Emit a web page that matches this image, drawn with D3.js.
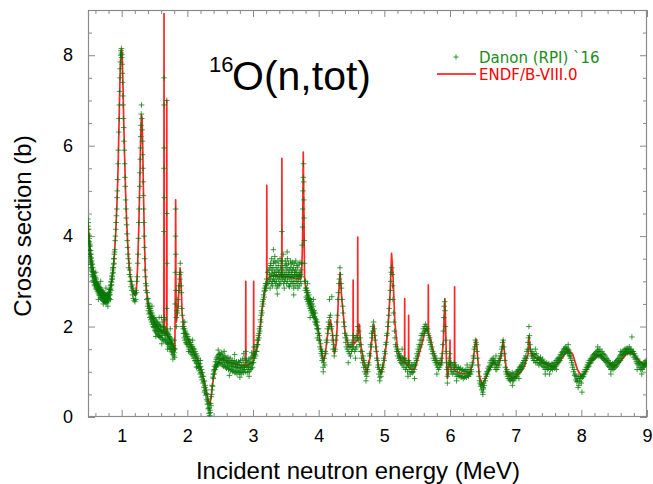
<!DOCTYPE html>
<html><head><meta charset="utf-8">
<script src="https://cdn.jsdelivr.net/npm/d3@7"></script>
<style>body{margin:0;background:#fff}svg{display:block}</style>
</head><body><svg id="c" width="653" height="484"></svg>
<script>
const xMajorTicks = [1,2,3,4,5,6,7,8,9];
const yMajorTicks = [0,2,4,6,8];
const xDomain = [0.487, 9];
const yDomain = [0, 9];
const seriesNames = ["Danon (RPI) `16", "ENDF/B-VIII.0"];
const titleSup = "16", titleMain = "O(n,tot)";
const xTitle = "Incident neutron energy (MeV)", yTitle = "Cross section (b)";

// ENDF/B-VIII.0 evaluated curve [E (MeV), sigma (b)]
const endf = [[0.48,4.3],[0.49,4.2],[0.50,4.02],[0.52,3.72],[0.54,3.48],[0.57,3.22],[0.60,3.06],[0.63,2.96],[0.67,2.86],[0.71,2.77],[0.75,2.7],[0.78,2.67],[0.81,2.72],[0.84,2.92],[0.87,3.25],[0.89,3.6],[0.91,4.1],[0.93,4.8],[0.945,5.5],[0.96,6.5],[0.97,7.25],[0.98,7.8],[0.99,8.1],[1.0,8.13],[1.01,7.9],[1.02,7.3],[1.03,6.6],[1.045,5.75],[1.06,4.95],[1.075,4.35],[1.09,3.9],[1.11,3.42],[1.13,3.12],[1.16,2.85],[1.19,2.7],[1.21,2.68],[1.225,2.85],[1.24,3.25],[1.255,3.9],[1.27,4.8],[1.28,5.5],[1.29,6.2],[1.30,6.68],[1.31,6.6],[1.32,6.0],[1.33,5.1],[1.345,4.0],[1.36,3.2],[1.38,2.75],[1.41,2.45],[1.45,2.25],[1.5,2.08],[1.55,1.97],[1.6,1.92],[1.642,1.88],[1.645,8.92],[1.648,1.9],[1.684,1.82],[1.687,7.0],[1.69,1.82],[1.72,1.75],[1.76,1.65],[1.79,1.55],[1.81,1.45],[1.818,3.0],[1.822,4.8],[1.826,3.0],[1.832,2.1],[1.85,2.3],[1.87,2.75],[1.89,3.3],[1.905,2.95],[1.92,2.3],[1.95,1.92],[2.0,1.75],[2.05,1.58],[2.1,1.42],[2.15,1.28],[2.2,1.08],[2.25,0.83],[2.29,0.55],[2.32,0.35],[2.345,0.28],[2.37,0.55],[2.40,0.88],[2.44,1.12],[2.48,1.24],[2.53,1.28],[2.6,1.24],[2.7,1.18],[2.8,1.15],[2.888,1.14],[2.89,3.0],[2.892,1.14],[3.0,1.2],[3.008,1.25],[3.01,3.0],[3.012,1.3],[3.06,1.5],[3.1,1.85],[3.14,2.38],[3.18,2.78],[3.208,2.95],[3.21,5.12],[3.212,3.0],[3.25,3.1],[3.3,3.12],[3.35,3.13],[3.438,3.1],[3.44,5.72],[3.442,3.1],[3.55,3.1],[3.65,3.06],[3.72,3.05],[3.74,3.15],[3.755,3.9],[3.765,5.86],[3.775,4.6],[3.785,3.1],[3.8,2.88],[3.85,2.6],[3.9,2.4],[3.95,2.18],[4.0,1.88],[4.04,1.48],[4.07,1.22],[4.1,1.38],[4.14,1.88],[4.18,2.15],[4.21,1.85],[4.24,1.4],[4.27,1.65],[4.3,2.6],[4.325,3.2],[4.35,2.65],[4.4,1.9],[4.45,1.55],[4.5,1.55],[4.523,1.6],[4.525,3.03],[4.527,1.6],[4.593,1.7],[4.595,3.98],[4.597,1.8],[4.62,2.05],[4.64,1.6],[4.68,1.25],[4.73,0.98],[4.78,1.3],[4.82,1.85],[4.84,2.05],[4.87,1.6],[4.91,1.1],[4.95,0.95],[5.0,1.25],[5.05,1.85],[5.09,2.8],[5.11,3.62],[5.13,3.2],[5.16,2.1],[5.2,1.5],[5.25,1.25],[5.308,1.2],[5.31,2.62],[5.312,1.2],[5.368,1.12],[5.37,2.25],[5.372,1.1],[5.42,1.05],[5.47,1.08],[5.52,1.35],[5.58,1.65],[5.63,1.95],[5.668,1.88],[5.67,2.92],[5.672,1.85],[5.7,1.75],[5.75,1.42],[5.8,1.2],[5.87,1.15],[5.9,1.7],[5.915,2.4],[5.922,2.62],[5.93,2.2],[5.945,1.3],[5.96,0.85],[5.98,1.1],[5.998,1.2],[6.0,1.7],[6.002,1.15],[6.03,1.05],[6.068,1.05],[6.07,2.88],[6.072,1.05],[6.1,1.0],[6.2,0.95],[6.3,0.98],[6.35,1.2],[6.385,1.65],[6.40,1.72],[6.42,1.35],[6.45,0.9],[6.49,0.72],[6.53,0.82],[6.6,1.05],[6.66,1.22],[6.7,1.15],[6.74,1.15],[6.78,1.35],[6.81,1.7],[6.83,1.45],[6.86,1.0],[6.92,0.88],[7.0,0.88],[7.08,1.0],[7.14,1.15],[7.19,1.4],[7.205,1.77],[7.22,1.5],[7.26,1.35],[7.33,1.28],[7.4,1.22],[7.5,1.14],[7.58,1.11],[7.66,1.2],[7.74,1.38],[7.81,1.48],[7.87,1.38],[7.94,1.05],[8.0,0.9],[8.06,0.98],[8.14,1.2],[8.22,1.33],[8.29,1.37],[8.38,1.25],[8.49,1.11],[8.58,1.2],[8.68,1.38],[8.77,1.44],[8.84,1.3],[8.95,1.15],[9.0,1.2]];

// Danon (RPI) 2016 measurement [E (MeV), sigma (b)] - main sweep
const danonMain = [[0.483,4.38],[0.486,4.05],[0.489,4.22],[0.492,3.9],[0.495,4.15],[0.498,3.85],[0.501,4.02],[0.504,3.7],[0.507,3.95],[0.51,3.6],[0.513,3.82],[0.516,3.55],[0.519,3.78],[0.522,3.45],[0.525,3.68],[0.528,3.38],[0.531,3.6],[0.534,3.3],[0.537,3.52],[0.54,3.25],[0.544,3.45],[0.548,3.15],[0.552,3.38],[0.556,3.1],[0.56,3.3],[0.565,3.02],[0.57,3.22],[0.575,2.98],[0.58,3.18],[0.585,2.92],[0.59,3.12],[0.595,2.9],[0.60,3.08],[0.606,2.85],[0.612,3.05],[0.618,2.82],[0.624,2.98],[0.63,2.78],[0.636,2.95],[0.642,2.74],[0.648,2.92],[0.654,2.7],[0.66,2.88],[0.666,2.68],[0.672,2.86],[0.678,2.64],[0.684,2.82],[0.69,2.62],[0.696,2.8],[0.702,2.6],[0.708,2.78],[0.714,2.58],[0.72,2.75],[0.726,2.56],[0.732,2.74],[0.738,2.55],[0.744,2.72],[0.75,2.54],[0.756,2.7],[0.762,2.53],[0.768,2.68],[0.774,2.52],[0.78,2.7],[0.786,2.55],[0.792,2.72],[0.798,2.58],[0.804,2.76],[0.81,2.62],[0.816,2.82],[0.822,2.7],[0.828,2.9],[0.834,2.8],[0.84,3.0],[0.846,2.92],[0.852,3.12],[0.858,3.05],[0.864,3.25],[0.87,3.2],[0.876,3.38],[0.882,3.4],[0.888,3.6],[0.894,3.7],[0.90,3.9],[0.905,4.0],[0.91,4.15],[0.915,4.3],[0.92,4.45],[0.925,4.6],[0.93,4.85],[0.935,5.0],[0.94,5.25],[0.945,5.6],[0.95,5.9],[0.955,6.3],[0.96,6.6],[0.965,6.9],[0.97,7.2],[0.975,7.5],[0.978,7.7],[0.982,7.85],[0.986,8.0],[0.99,8.1],[0.993,8.05],[0.996,8.15],[1.0,7.95],[1.003,8.02],[1.006,7.8],[1.01,7.6],[1.014,7.4],[1.018,7.1],[1.022,6.9],[1.026,6.6],[1.03,6.4],[1.035,6.1],[1.04,5.9],[1.045,5.6],[1.05,5.3],[1.055,5.1],[1.06,4.8],[1.065,4.6],[1.07,4.4],[1.075,4.25],[1.08,4.05],[1.085,3.9],[1.09,3.75],[1.095,3.6],[1.10,3.5],[1.106,3.3],[1.112,3.4],[1.118,3.15],[1.124,3.25],[1.13,3.0],[1.136,3.1],[1.142,2.88],[1.148,3.0],[1.154,2.8],[1.16,2.92],[1.166,2.7],[1.172,2.85],[1.178,2.62],[1.184,2.78],[1.19,2.58],[1.196,2.74],[1.202,2.55],[1.208,2.72],[1.214,2.6],[1.22,2.8],[1.226,2.75],[1.232,3.0],[1.238,3.1],[1.244,3.4],[1.25,3.6],[1.256,3.95],[1.262,4.3],[1.266,4.6],[1.27,4.85],[1.274,5.1],[1.278,5.4],[1.282,5.7],[1.286,5.95],[1.29,6.2],[1.294,6.45],[1.298,6.7],[1.302,6.9],[1.306,6.6],[1.31,6.35],[1.314,6.1],[1.318,5.8],[1.322,5.5],[1.326,5.2],[1.33,4.9],[1.334,4.6],[1.338,4.3],[1.342,4.0],[1.346,3.75],[1.35,3.5],[1.355,3.25],[1.36,3.1],[1.365,2.95],[1.37,2.8],[1.376,2.9],[1.382,2.6],[1.388,2.75],[1.394,2.45],[1.40,2.62],[1.406,2.35],[1.412,2.52],[1.418,2.28],[1.424,2.45],[1.43,2.2],[1.436,2.4],[1.442,2.15],[1.448,2.35],[1.454,2.1],[1.46,2.3],[1.466,2.05],[1.472,2.25],[1.478,2.0],[1.484,2.2],[1.49,1.98],[1.496,2.18],[1.502,1.92],[1.508,2.15],[1.514,1.9],[1.52,2.12],[1.526,1.88],[1.532,2.1],[1.538,1.85],[1.544,2.08],[1.55,1.82],[1.556,2.05],[1.562,1.8],[1.568,2.04],[1.574,1.78],[1.58,2.02],[1.586,1.76],[1.592,2.0],[1.598,1.75],[1.604,2.2],[1.61,1.8],[1.616,2.1],[1.622,1.72],[1.628,1.98],[1.634,1.7],[1.64,2.0],[1.643,4.1],[1.644,5.5],[1.645,7.5],[1.646,6.9],[1.647,5.95],[1.648,4.85],[1.65,2.2],[1.656,1.72],[1.662,1.95],[1.668,1.68],[1.674,1.92],[1.68,1.65],[1.684,2.4],[1.686,4.5],[1.687,7.0],[1.688,3.4],[1.692,1.88],[1.698,1.62],[1.704,1.85],[1.71,1.6],[1.716,1.82],[1.722,1.55],[1.728,1.78],[1.734,1.52],[1.74,1.75],[1.746,1.5],[1.752,1.72],[1.758,1.45],[1.764,1.68],[1.77,1.42],[1.776,1.62],[1.782,1.38],[1.788,1.58],[1.794,1.35],[1.80,1.52],[1.806,1.32],[1.812,1.5],[1.816,2.5],[1.818,3.2],[1.82,4.0],[1.822,4.6],[1.824,3.6],[1.826,2.8],[1.83,2.2],[1.836,2.0],[1.842,2.35],[1.85,2.3],[1.856,2.6],[1.862,2.45],[1.868,2.9],[1.874,2.8],[1.88,3.15],[1.886,3.05],[1.892,3.4],[1.898,3.2],[1.904,2.9],[1.91,2.75],[1.916,2.4],[1.922,2.25],[1.928,2.0],[1.934,2.1],[1.94,1.85],[1.946,2.0],[1.952,1.75],[1.958,1.95],[1.964,1.7],[1.97,1.9],[1.976,1.65],[1.982,1.85],[1.988,1.62],[1.994,1.82],[2.0,1.6],[2.007,1.78],[2.014,1.55],[2.021,1.72],[2.028,1.5],[2.035,1.7],[2.042,1.45],[2.049,1.65],[2.056,1.42],[2.063,1.6],[2.07,1.38],[2.077,1.56],[2.084,1.35],[2.091,1.52],[2.098,1.3],[2.105,1.5],[2.112,1.25],[2.119,1.45],[2.126,1.22],[2.133,1.4],[2.14,1.18],[2.147,1.35],[2.154,1.12],[2.161,1.3],[2.168,1.08],[2.175,1.25],[2.182,1.02],[2.189,1.18],[2.196,0.95],[2.203,1.12],[2.21,0.88],[2.217,1.05],[2.224,0.82],[2.231,0.98],[2.238,0.75],[2.245,0.9],[2.252,0.66],[2.259,0.8],[2.266,0.58],[2.273,0.7],[2.28,0.48],[2.287,0.6],[2.294,0.38],[2.30,0.5],[2.306,0.28],[2.312,0.4],[2.318,0.18],[2.324,0.3],[2.33,0.08],[2.335,0.2],[2.34,0.03],[2.345,0.15],[2.35,0.1],[2.355,0.3],[2.36,0.25],[2.366,0.45],[2.372,0.5],[2.378,0.7],[2.384,0.68],[2.39,0.88],[2.396,0.85],[2.402,1.02],[2.408,0.95],[2.414,1.12],[2.42,1.05],[2.426,1.22],[2.432,1.1],[2.438,1.28],[2.444,1.12],[2.45,1.32],[2.457,1.15],[2.464,1.35],[2.471,1.18],[2.478,1.38],[2.485,1.2],[2.492,1.4],[2.5,1.18],[2.508,1.38],[2.516,1.2],[2.524,1.42],[2.532,1.15],[2.54,1.35],[2.548,1.12],[2.556,1.32],[2.564,1.15],[2.572,1.35],[2.58,1.1],[2.588,1.3],[2.596,1.08],[2.604,1.28],[2.612,1.12],[2.62,1.32],[2.628,1.05],[2.636,1.25],[2.644,1.08],[2.652,1.3],[2.66,1.02],[2.668,1.22],[2.676,1.05],[2.684,1.25],[2.692,1.0],[2.70,1.2],[2.708,1.02],[2.716,1.25],[2.724,0.98],[2.732,1.18],[2.74,1.0],[2.748,1.22],[2.756,0.95],[2.764,1.15],[2.772,1.02],[2.78,1.22],[2.788,0.98],[2.796,1.2],[2.804,1.0],[2.812,1.25],[2.82,0.95],[2.828,1.15],[2.836,1.02],[2.844,1.28],[2.852,0.98],[2.86,1.2],[2.868,1.05],[2.876,1.3],[2.884,1.0],[2.89,1.45],[2.896,1.1],[2.904,1.25],[2.912,0.98],[2.92,1.2],[2.928,1.05],[2.936,1.28],[2.944,1.0],[2.952,1.22],[2.96,1.05],[2.968,1.3],[2.976,1.08],[2.984,1.32],[2.992,1.1],[3.0,1.35],[3.008,1.2],[3.016,1.55],[3.024,1.3],[3.032,1.45],[3.04,1.35],[3.048,1.55],[3.056,1.45],[3.064,1.7],[3.072,1.6],[3.08,1.8],[3.088,1.75],[3.096,1.95],[3.104,1.9],[3.112,2.15],[3.12,2.1],[3.128,2.35],[3.136,2.3],[3.144,2.55],[3.152,2.5],[3.16,2.7],[3.168,2.65],[3.176,2.85],[3.184,2.8],[3.192,2.95],[3.20,2.85],[3.208,3.05],[3.216,2.95],[3.224,3.2],[3.232,2.95],[3.24,3.25],[3.248,3.0],[3.256,3.3],[3.264,3.05],[3.272,3.35],[3.28,2.95],[3.288,3.25],[3.296,3.0],[3.304,3.3],[3.312,3.05],[3.32,3.45],[3.328,3.0],[3.336,3.2],[3.344,2.95],[3.352,3.3],[3.36,3.0],[3.368,3.25],[3.376,2.9],[3.384,3.35],[3.392,3.05],[3.40,3.2],[3.408,2.95],[3.416,3.3],[3.424,3.0],[3.432,3.25],[3.44,4.1],[3.448,3.05],[3.456,3.3],[3.464,2.95],[3.472,3.2],[3.48,3.0],[3.488,3.35],[3.496,3.05],[3.504,3.25],[3.512,2.95],[3.52,3.3],[3.528,3.0],[3.536,3.2],[3.544,2.9],[3.552,3.25],[3.56,3.05],[3.568,3.3],[3.576,2.95],[3.584,3.2],[3.592,3.0],[3.60,3.25],[3.608,2.95],[3.616,3.3],[3.624,3.0],[3.632,3.2],[3.64,2.9],[3.648,3.25],[3.656,3.0],[3.664,3.2],[3.672,2.95],[3.68,3.3],[3.688,3.0],[3.696,3.15],[3.704,2.9],[3.712,3.2],[3.72,3.0],[3.728,3.25],[3.736,3.1],[3.744,3.4],[3.75,3.8],[3.754,4.2],[3.758,4.6],[3.762,5.0],[3.765,5.3],[3.768,5.6],[3.771,5.2],[3.774,4.8],[3.777,4.4],[3.78,3.9],[3.784,3.4],[3.79,3.0],[3.796,2.8],[3.802,3.0],[3.808,2.65],[3.814,2.85],[3.82,2.6],[3.826,2.8],[3.832,2.55],[3.838,2.75],[3.844,2.5],[3.85,2.7],[3.856,2.45],[3.862,2.62],[3.868,2.4],[3.874,2.6],[3.88,2.35],[3.886,2.55],[3.892,2.3],[3.9,2.5],[3.908,2.25],[3.916,2.45],[3.924,2.2],[3.932,2.35],[3.94,2.1],[3.948,2.3],[3.956,2.05],[3.964,2.15],[3.972,1.95],[3.98,2.1],[3.988,1.85],[3.996,1.95],[4.004,1.7],[4.012,1.8],[4.02,1.55],[4.028,1.62],[4.036,1.4],[4.044,1.45],[4.052,1.25],[4.06,1.3],[4.068,1.1],[4.076,1.2],[4.084,1.3],[4.092,1.15],[4.1,1.45],[4.108,1.4],[4.116,1.7],[4.124,1.65],[4.132,1.95],[4.14,1.85],[4.148,2.1],[4.156,2.0],[4.164,2.2],[4.165,2.6],[4.172,2.05],[4.18,2.25],[4.188,1.95],[4.196,2.0],[4.20,2.66],[4.204,1.7],[4.212,1.8],[4.22,1.5],[4.228,1.6],[4.236,1.35],[4.244,1.45],[4.252,1.5],[4.26,1.7],[4.268,1.8],[4.276,2.1],[4.284,2.25],[4.292,2.6],[4.30,2.75],[4.308,2.95],[4.316,3.05],[4.324,3.3],[4.332,3.15],[4.34,2.95],[4.348,2.85],[4.356,2.6],[4.364,2.45],[4.372,2.3],[4.38,2.1],[4.388,2.0],[4.396,1.85],[4.404,1.75],[4.412,1.65],[4.42,1.55],[4.428,1.8],[4.436,1.5],[4.444,1.7],[4.452,1.45],[4.46,1.6],[4.468,1.4],[4.476,1.55],[4.484,1.35],[4.492,1.6],[4.50,1.45],[4.508,1.65],[4.516,1.5],[4.524,1.8],[4.532,1.55],[4.54,1.7],[4.548,1.45],[4.556,1.75],[4.564,1.5],[4.572,1.8],[4.58,1.55],[4.588,1.75],[4.596,2.0],[4.604,1.7],[4.612,1.9],[4.62,1.6],[4.628,1.75],[4.636,1.45],[4.644,1.6],[4.652,1.3],[4.66,1.45],[4.668,1.2],[4.676,1.35],[4.684,1.1],[4.692,1.25],[4.70,1.0],[4.708,1.15],[4.716,0.95],[4.724,1.1],[4.732,0.9],[4.74,1.05],[4.748,1.0],[4.756,1.2],[4.764,1.15],[4.772,1.4],[4.78,1.35],[4.788,1.6],[4.796,1.55],[4.804,1.85],[4.812,1.75],[4.82,2.0],[4.828,1.9],[4.836,2.1],[4.844,1.95],[4.852,1.8],[4.86,1.7],[4.868,1.55],[4.876,1.45],[4.884,1.3],[4.892,1.25],[4.90,1.1],[4.908,1.15],[4.916,0.95],[4.924,1.05],[4.932,0.88],[4.94,1.0],[4.948,0.9],[4.956,1.05],[4.964,1.0],[4.972,1.15],[4.98,1.1],[4.988,1.3],[4.996,1.25],[5.004,1.45],[5.012,1.4],[5.02,1.6],[5.028,1.65],[5.036,1.8],[5.044,1.85],[5.052,2.0],[5.06,2.1],[5.068,2.25],[5.076,2.4],[5.084,2.6],[5.092,2.8],[5.10,3.0],[5.106,3.2],[5.112,3.3],[5.118,3.15],[5.124,2.9],[5.13,2.6],[5.138,2.3],[5.146,2.1],[5.154,1.9],[5.162,1.75],[5.17,1.6],[5.178,1.55],[5.186,1.45],[5.194,1.5],[5.202,1.35],[5.21,1.45],[5.218,1.3],[5.226,1.4],[5.234,1.25],[5.242,1.35],[5.25,1.2],[5.258,1.32],[5.266,1.18],[5.274,1.3],[5.282,1.15],[5.29,1.28],[5.298,1.1],[5.306,1.3],[5.314,1.2],[5.322,1.05],[5.33,1.25],[5.338,1.1],[5.346,1.2],[5.354,1.0],[5.362,1.15],[5.37,1.25],[5.378,1.05],[5.386,1.2],[5.394,0.95],[5.402,1.1],[5.41,1.0],[5.418,1.15],[5.426,0.98],[5.434,1.12],[5.442,1.0],[5.45,1.15],[5.458,1.05],[5.466,1.2],[5.474,1.15],[5.482,1.3],[5.49,1.25],[5.498,1.4],[5.506,1.35],[5.514,1.5],[5.522,1.45],[5.53,1.6],[5.538,1.55],[5.546,1.7],[5.554,1.6],[5.562,1.8],[5.57,1.7],[5.578,1.85],[5.586,1.8],[5.594,1.95],[5.602,1.85],[5.61,2.0],[5.618,1.9],[5.626,2.05],[5.634,1.95],[5.642,2.0],[5.65,1.9],[5.658,1.95],[5.666,1.85],[5.674,1.8],[5.682,1.7],[5.69,1.75],[5.698,1.6],[5.706,1.65],[5.714,1.5],[5.722,1.55],[5.73,1.4],[5.738,1.45],[5.746,1.3],[5.754,1.4],[5.762,1.25],[5.77,1.35],[5.778,1.2],[5.786,1.3],[5.794,1.15],[5.802,1.25],[5.81,1.1],[5.818,1.2],[5.826,1.05],[5.834,1.2],[5.842,1.1],[5.85,1.25],[5.858,1.15],[5.866,1.3],[5.874,1.2],[5.882,1.4],[5.89,1.6],[5.898,1.9],[5.906,2.2],[5.912,2.45],[5.918,2.55],[5.924,2.35],[5.93,2.0],[5.936,1.7],[5.942,1.45],[5.948,1.2],[5.954,1.05],[5.96,0.9],[5.966,1.1],[5.972,0.95],[5.978,1.2],[5.984,1.3],[5.99,1.15],[5.996,1.4],[6.002,1.2],[6.01,1.05],[6.018,1.2],[6.026,1.0],[6.034,1.15],[6.042,0.95],[6.05,1.1],[6.058,1.0],[6.066,1.2],[6.074,1.05],[6.082,1.15],[6.09,0.95],[6.098,1.1],[6.106,0.9],[6.114,1.05],[6.122,0.95],[6.13,1.1],[6.138,0.9],[6.146,1.05],[6.154,0.92],[6.162,1.08],[6.17,0.88],[6.178,1.02],[6.186,0.9],[6.194,1.05],[6.202,0.85],[6.21,1.0],[6.218,0.88],[6.226,1.02],[6.234,0.9],[6.242,1.05],[6.25,0.88],[6.258,1.0],[6.266,0.92],[6.274,1.05],[6.282,0.9],[6.29,1.0],[6.298,0.95],[6.306,1.1],[6.314,0.95],[6.322,1.05],[6.33,1.0],[6.338,1.2],[6.346,1.15],[6.354,1.35],[6.362,1.3],[6.37,1.5],[6.378,1.55],[6.386,1.7],[6.394,1.65],[6.402,1.6],[6.41,1.45],[6.418,1.3],[6.426,1.15],[6.434,1.0],[6.442,0.9],[6.45,0.8],[6.458,0.75],[6.466,0.68],[6.474,0.72],[6.482,0.6],[6.49,0.7],[6.498,0.55],[6.506,0.65],[6.514,0.75],[6.522,0.7],[6.53,0.85],[6.538,0.8],[6.546,0.95],[6.554,0.9],[6.562,1.0],[6.57,0.95],[6.578,1.08],[6.586,1.02],[6.594,1.12],[6.602,1.05],[6.61,1.2],[6.618,1.1],[6.626,1.25],[6.634,1.15],[6.642,1.28],[6.65,1.18],[6.658,1.3],[6.666,1.2],[6.674,1.25],[6.682,1.1],[6.69,1.22],[6.698,1.05],[6.706,1.15],[6.714,1.05],[6.722,1.2],[6.73,1.1],[6.738,1.25],[6.746,1.15],[6.754,1.3],[6.762,1.25],[6.77,1.4],[6.778,1.35],[6.786,1.5],[6.794,1.55],[6.802,1.65],[6.81,1.7],[6.818,1.55],[6.826,1.4],[6.834,1.25],[6.842,1.1],[6.85,1.0],[6.858,0.95],[6.866,1.05],[6.874,0.9],[6.882,1.0],[6.89,0.85],[6.898,0.95],[6.906,0.82],[6.914,0.95],[6.922,0.8],[6.93,0.92],[6.938,0.85],[6.946,0.98],[6.954,0.82],[6.962,0.95],[6.97,0.8],[6.978,0.9],[6.986,0.85],[6.994,0.95],[7.002,0.88],[7.01,1.0],[7.018,0.9],[7.026,1.02],[7.034,0.95],[7.042,1.05],[7.05,0.98],[7.058,1.1],[7.066,1.02],[7.074,1.12],[7.082,1.05],[7.09,1.15],[7.098,1.08],[7.106,1.2],[7.114,1.12],[7.122,1.25],[7.13,1.18],[7.138,1.3],[7.146,1.25],[7.154,1.35],[7.162,1.3],[7.17,1.45],[7.178,1.5],[7.186,1.65],[7.194,1.75],[7.202,2.0],[7.21,1.8],[7.218,1.6],[7.226,1.5],[7.234,1.4],[7.242,1.35],[7.25,1.45],[7.258,1.3],[7.266,1.4],[7.274,1.25],[7.282,1.38],[7.29,1.25],[7.298,1.35],[7.306,1.2],[7.314,1.4],[7.322,1.25],[7.33,1.32],[7.338,1.2],[7.346,1.3],[7.354,1.15],[7.362,1.28],[7.37,1.2],[7.378,1.32],[7.386,1.18],[7.394,1.25],[7.402,1.15],[7.41,1.28],[7.418,1.12],[7.426,1.22],[7.434,1.1],[7.442,1.2],[7.45,1.05],[7.458,1.18],[7.466,1.1],[7.474,1.2],[7.482,1.05],[7.49,1.15],[7.498,1.08],[7.506,1.18],[7.514,0.95],[7.522,1.12],[7.53,1.05],[7.538,1.15],[7.546,1.08],[7.554,1.18],[7.562,1.05],[7.57,1.15],[7.578,1.1],[7.586,1.2],[7.594,1.08],[7.602,1.2],[7.61,1.12],[7.618,1.25],[7.626,1.15],[7.634,1.28],[7.642,1.2],[7.65,1.3],[7.658,1.22],[7.666,1.32],[7.674,1.25],[7.682,1.38],[7.69,1.3],[7.698,1.42],[7.706,1.35],[7.714,1.45],[7.722,1.38],[7.73,1.5],[7.738,1.42],[7.746,1.52],[7.754,1.45],[7.762,1.55],[7.77,1.48],[7.778,1.52],[7.786,1.42],[7.794,1.5],[7.802,1.4],[7.81,1.48],[7.818,1.35],[7.826,1.42],[7.834,1.3],[7.842,1.35],[7.85,1.2],[7.858,1.25],[7.866,1.1],[7.874,1.15],[7.882,1.0],[7.89,1.05],[7.898,0.92],[7.906,0.95],[7.914,0.82],[7.922,0.9],[7.93,0.78],[7.938,0.85],[7.946,0.8],[7.954,0.9],[7.962,0.7],[7.97,0.85],[7.978,0.78],[7.986,0.9],[7.994,0.85],[8.002,0.9],[8.01,0.55],[8.018,0.88],[8.026,0.95],[8.034,0.9],[8.042,1.0],[8.05,0.95],[8.058,1.05],[8.066,1.0],[8.074,1.1],[8.082,1.05],[8.09,1.15],[8.098,1.1],[8.106,1.2],[8.114,1.12],[8.122,1.25],[8.13,1.18],[8.138,1.28],[8.146,1.2],[8.154,1.3],[8.162,1.25],[8.17,1.35],[8.178,1.28],[8.186,1.38],[8.194,1.3],[8.202,1.4],[8.21,1.32],[8.218,1.42],[8.226,1.35],[8.234,1.45],[8.242,1.38],[8.25,1.48],[8.258,1.35],[8.266,1.45],[8.274,1.38],[8.282,1.5],[8.29,1.35],[8.298,1.42],[8.306,1.32],[8.314,1.45],[8.322,1.3],[8.33,1.4],[8.338,1.28],[8.346,1.38],[8.354,1.25],[8.362,1.35],[8.37,1.22],[8.378,1.3],[8.386,1.2],[8.394,1.28],[8.402,1.15],[8.41,1.25],[8.418,1.12],[8.426,1.2],[8.434,1.1],[8.442,1.18],[8.45,1.05],[8.458,1.15],[8.466,1.08],[8.474,1.18],[8.482,1.05],[8.49,1.15],[8.498,1.08],[8.506,1.2],[8.514,1.1],[8.522,1.22],[8.53,1.12],[8.538,1.25],[8.546,1.15],[8.554,1.28],[8.562,1.2],[8.57,1.3],[8.578,1.22],[8.586,1.35],[8.594,1.25],[8.602,1.38],[8.61,1.3],[8.618,1.42],[8.626,1.35],[8.634,1.45],[8.642,1.38],[8.65,1.48],[8.658,1.4],[8.666,1.5],[8.674,1.42],[8.682,1.5],[8.69,1.45],[8.698,1.52],[8.706,1.42],[8.714,1.5],[8.722,1.45],[8.73,1.55],[8.738,1.42],[8.746,1.5],[8.754,1.4],[8.762,1.48],[8.77,1.77],[8.778,1.45],[8.786,1.38],[8.794,1.45],[8.802,1.32],[8.81,1.4],[8.818,1.28],[8.826,1.35],[8.834,1.22],[8.842,1.3],[8.85,1.18],[8.858,1.28],[8.866,1.15],[8.874,1.22],[8.882,1.1],[8.89,1.2],[8.898,1.05],[8.906,1.15],[8.914,1.08],[8.922,1.18],[8.93,1.05],[8.938,1.15],[8.946,1.1],[8.954,1.2],[8.962,1.12],[8.97,1.22],[8.978,1.15],[8.986,1.25],[8.994,1.18]];

// Danon (RPI) 2016 measurement - additional points read in the dense bands
const danonBand = [[0.485,4.15],[0.49,4.3],[0.497,4.0],[0.503,3.88],[0.509,3.78],[0.515,3.68],[0.521,3.6],[0.527,3.5],[0.533,3.42],[0.539,3.38],[0.546,3.3],[0.553,3.22],[0.559,3.2],[0.567,3.12],[0.573,3.1],[0.582,3.05],[0.588,3.0],[0.597,2.98],[0.603,2.95],[0.61,2.92],[0.62,2.9],[0.627,2.88],[0.633,2.86],[0.64,2.84],[0.651,2.8],[0.658,2.78],[0.669,2.76],[0.675,2.75],[0.681,2.72],[0.693,2.7],[0.70,2.68],[0.711,2.66],[0.717,2.68],[0.729,2.64],[0.735,2.62],[0.741,2.65],[0.753,2.62],[0.759,2.6],[0.765,2.62],[0.777,2.6],[0.783,2.62],[0.789,2.64],[0.795,2.66],[0.801,2.68],[0.807,2.7],[0.813,2.72],[0.819,2.76],[0.825,2.82],[0.831,2.85],[0.837,2.92],[0.843,2.98],[0.849,3.05],[0.855,3.1],[0.861,3.18],[0.867,3.3],[0.873,3.3],[0.879,3.5],[0.885,3.5],[0.891,3.65],[0.605,3.2],[0.645,2.6],[0.68,3.0],[0.72,2.5],[0.76,2.85],[0.79,2.45],[0.83,2.6],[1.403,2.5],[1.415,2.4],[1.427,2.32],[1.439,2.28],[1.451,2.22],[1.463,2.18],[1.475,2.12],[1.487,2.08],[1.499,2.05],[1.511,2.02],[1.523,2.0],[1.535,1.97],[1.547,1.95],[1.559,1.93],[1.571,1.9],[1.583,1.9],[1.595,1.88],[1.607,1.92],[1.619,1.85],[1.631,1.88],[1.653,1.85],[1.665,1.82],[1.677,1.8],[1.695,1.75],[1.707,1.72],[1.719,1.68],[1.731,1.65],[1.743,1.62],[1.755,1.6],[1.767,1.55],[1.779,1.5],[1.791,1.48],[1.803,1.42],[1.46,2.45],[1.52,1.78],[1.57,2.2],[1.61,1.62],[1.66,2.15],[1.70,1.5],[1.74,1.95],[1.78,1.28],[1.80,1.7],[1.937,1.95],[1.955,1.85],[1.973,1.78],[1.991,1.72],[2.01,1.66],[2.03,1.6],[2.05,1.55],[2.07,1.48],[2.09,1.42],[2.11,1.38],[2.13,1.32],[2.15,1.25],[2.17,1.18],[2.19,1.1],[2.21,0.98],[2.23,0.9],[2.25,0.78],[2.27,0.65],[2.29,0.52],[2.31,0.35],[2.33,0.2],[1.96,2.1],[2.02,1.45],[2.08,1.7],[2.14,1.1],[2.20,1.25],[2.26,0.55],[2.375,0.6],[2.393,0.95],[2.41,1.05],[2.43,1.15],[2.45,1.22],[2.47,1.28],[2.49,1.3],[2.51,1.3],[2.53,1.28],[2.55,1.25],[2.57,1.22],[2.59,1.2],[2.61,1.2],[2.63,1.18],[2.65,1.15],[2.67,1.15],[2.69,1.12],[2.71,1.12],[2.73,1.1],[2.75,1.1],[2.77,1.08],[2.79,1.1],[2.81,1.1],[2.83,1.08],[2.85,1.1],[2.87,1.12],[2.91,1.1],[2.93,1.12],[2.95,1.15],[2.97,1.18],[2.99,1.2],[2.47,1.48],[2.56,1.45],[2.64,0.92],[2.72,1.38],[2.80,0.88],[2.86,1.4],[2.94,0.9],[2.98,1.42],[3.012,1.4],[3.028,1.38],[3.044,1.45],[3.06,1.6],[3.076,1.7],[3.092,1.85],[3.108,2.0],[3.124,2.25],[3.14,2.45],[3.156,2.6],[3.172,2.78],[3.188,2.9],[3.204,2.95],[3.252,3.15],[3.26,2.85],[3.268,3.4],[3.276,3.12],[3.284,3.5],[3.292,3.18],[3.30,2.9],[3.308,3.12],[3.316,3.4],[3.324,3.2],[3.332,3.55],[3.34,3.1],[3.348,3.42],[3.356,3.15],[3.364,2.85],[3.372,3.1],[3.38,3.45],[3.388,3.2],[3.396,2.92],[3.404,3.1],[3.412,3.5],[3.42,3.15],[3.428,3.4],[3.436,3.12],[3.444,3.45],[3.452,3.15],[3.46,3.6],[3.468,3.1],[3.476,2.85],[3.484,3.15],[3.492,3.45],[3.50,3.12],[3.508,3.38],[3.516,3.15],[3.524,3.5],[3.532,3.1],[3.54,3.4],[3.548,3.15],[3.556,2.88],[3.564,3.12],[3.572,3.45],[3.58,3.1],[3.588,3.38],[3.596,3.15],[3.604,3.42],[3.612,3.1],[3.62,2.85],[3.628,3.12],[3.636,3.4],[3.644,3.15],[3.652,3.45],[3.66,3.1],[3.668,3.35],[3.676,3.12],[3.684,2.85],[3.692,3.1],[3.70,3.38],[3.708,3.12],[3.716,3.42],[3.724,3.15],[3.732,2.95],[3.31,3.7],[3.52,3.65],[3.62,2.7],[3.37,2.72],[3.805,2.85],[3.817,2.75],[3.829,2.68],[3.841,2.62],[3.853,2.58],[3.865,2.52],[3.877,2.48],[3.889,2.42],[3.901,2.38],[3.913,2.32],[3.925,2.28],[3.937,2.22],[3.949,2.18],[3.961,2.1],[3.973,2.02],[3.985,1.95],[3.997,1.85],[4.01,1.7],[4.03,1.5],[4.05,1.35],[3.83,2.95],[3.87,2.2],[3.92,2.6],[3.98,1.75],[4.07,1.0],[4.06,1.45],[4.45,1.2],[4.56,1.3],[4.72,0.8],[4.93,0.8],[5.27,1.5],[5.36,0.9],[5.46,0.85],[5.80,0.95],[5.96,0.75],[6.10,0.8],[6.26,1.15],[6.50,0.5],[6.51,0.62],[6.70,1.35],[6.95,0.7],[7.05,0.85],[7.30,1.5],[7.45,0.95],[7.62,1.05],[7.80,1.6],[7.95,0.65],[8.00,0.75],[8.25,1.55],[8.45,0.95],[8.60,1.45],[8.85,1.05],[8.92,0.95]];

const danon = danonMain.concat(danonBand);

const plot = {l: 88, r: 647, t: 10, b: 417};
const frameColor = "#8a8a8a";
const green = "#007a00", red = "#ff0000";
const font = "'Liberation Sans', Arial, Helvetica, sans-serif";

const svg = d3.select("#c");
const x = d3.scaleLinear().domain(xDomain).range([plot.l, plot.r]);
const y = d3.scaleLinear().domain(yDomain).range([plot.b, plot.t]);

svg.append("defs").append("clipPath").attr("id", "clip")
  .append("rect").attr("x", plot.l).attr("y", plot.t)
  .attr("width", plot.r - plot.l).attr("height", plot.b - plot.t);

const minorX = x.ticks(40).filter(v => !xMajorTicks.includes(v));
const minorY = y.ticks(18).filter(v => !yMajorTicks.includes(v));

function styleAxis(g) {
  g.select(".domain").remove();
  g.selectAll(".tick line").attr("stroke", frameColor).attr("stroke-width", 1);
  g.selectAll(".tick text").attr("fill", "#000").attr("font-family", font).attr("font-size", 18);
}
svg.append("g").attr("transform", `translate(0,${plot.b})`)
  .call(d3.axisBottom(x).tickValues(xMajorTicks).tickSize(-7).tickPadding(12).tickFormat(d3.format("d")))
  .call(styleAxis);
svg.append("g").attr("transform", `translate(0,${plot.b})`)
  .call(d3.axisBottom(x).tickValues(minorX).tickSize(-4).tickFormat(""))
  .call(styleAxis);
svg.append("g").attr("transform", `translate(0,${plot.t})`)
  .call(d3.axisTop(x).tickValues(xMajorTicks).tickSize(-7).tickFormat(""))
  .call(styleAxis);
svg.append("g").attr("transform", `translate(0,${plot.t})`)
  .call(d3.axisTop(x).tickValues(minorX).tickSize(-4).tickFormat(""))
  .call(styleAxis);
svg.append("g").attr("transform", `translate(${plot.l},0)`)
  .call(d3.axisLeft(y).tickValues(yMajorTicks).tickSize(-7).tickPadding(15).tickFormat(d3.format("d")))
  .call(styleAxis);
svg.append("g").attr("transform", `translate(${plot.l},0)`)
  .call(d3.axisLeft(y).tickValues(minorY).tickSize(-4).tickFormat(""))
  .call(styleAxis);
svg.append("g").attr("transform", `translate(${plot.r},0)`)
  .call(d3.axisRight(y).tickValues(yMajorTicks).tickSize(-7).tickFormat(""))
  .call(styleAxis);
svg.append("g").attr("transform", `translate(${plot.r},0)`)
  .call(d3.axisRight(y).tickValues(minorY).tickSize(-4).tickFormat(""))
  .call(styleAxis);

svg.append("rect").attr("x", plot.l + 0.5).attr("y", plot.t + 0.5)
  .attr("width", plot.r - plot.l - 1).attr("height", plot.b - plot.t - 1)
  .attr("fill", "none").attr("stroke", frameColor).attr("stroke-width", 1.2);

const layer = svg.append("g").attr("clip-path", "url(#clip)");

const line = d3.line().x(d => x(d[0])).y(d => y(d[1]));
layer.append("path").datum(endf).attr("d", line)
  .attr("fill", "none").attr("stroke", red).attr("stroke-width", 1.7)
  .attr("stroke-opacity", 0.85).attr("stroke-linejoin", "round");

const plus = "M-2.8,0H2.8M0,-2.8V2.8";
layer.append("g").selectAll("path").data(danon).join("path")
  .attr("transform", d => `translate(${x(d[0])},${y(d[1])})`)
  .attr("d", plus).attr("stroke", green).attr("stroke-width", 1)
  .attr("stroke-opacity", 0.75).attr("fill", "none");

svg.append("text").attr("x", 209).attr("y", 72).attr("font-family", font)
  .attr("font-size", 22).attr("fill", "#000").text(titleSup);
svg.append("text").attr("x", 232).attr("y", 90).attr("font-family", font)
  .attr("font-size", 41).attr("fill", "#000").text(titleMain);

const lf = "'DejaVu Sans', Verdana, sans-serif";
svg.append("path").attr("transform", "translate(456,57)").attr("d", "M-2.5,0H2.5M0,-2.5V2.5")
  .attr("stroke", green).attr("stroke-width", 1).attr("stroke-opacity", 0.8);
svg.append("text").attr("x", 479).attr("y", 63).attr("font-family", lf).attr("font-size", 15)
  .attr("fill", "#1a8c1a").text(seriesNames[0]);
svg.append("line").attr("x1", 437).attr("x2", 476).attr("y1", 74).attr("y2", 74)
  .attr("stroke", red).attr("stroke-width", 1.3);
svg.append("text").attr("x", 479).attr("y", 80).attr("font-family", lf).attr("font-size", 15)
  .attr("fill", red).text(seriesNames[1]);

svg.append("text").attr("x", 358).attr("y", 479).attr("text-anchor", "middle")
  .attr("font-family", font).attr("font-size", 24).attr("fill", "#000").text(xTitle);
svg.append("text").attr("transform", "translate(31,226) rotate(-90)").attr("text-anchor", "middle")
  .attr("font-family", font).attr("font-size", 24).attr("fill", "#000").text(yTitle);
</script></body></html>
